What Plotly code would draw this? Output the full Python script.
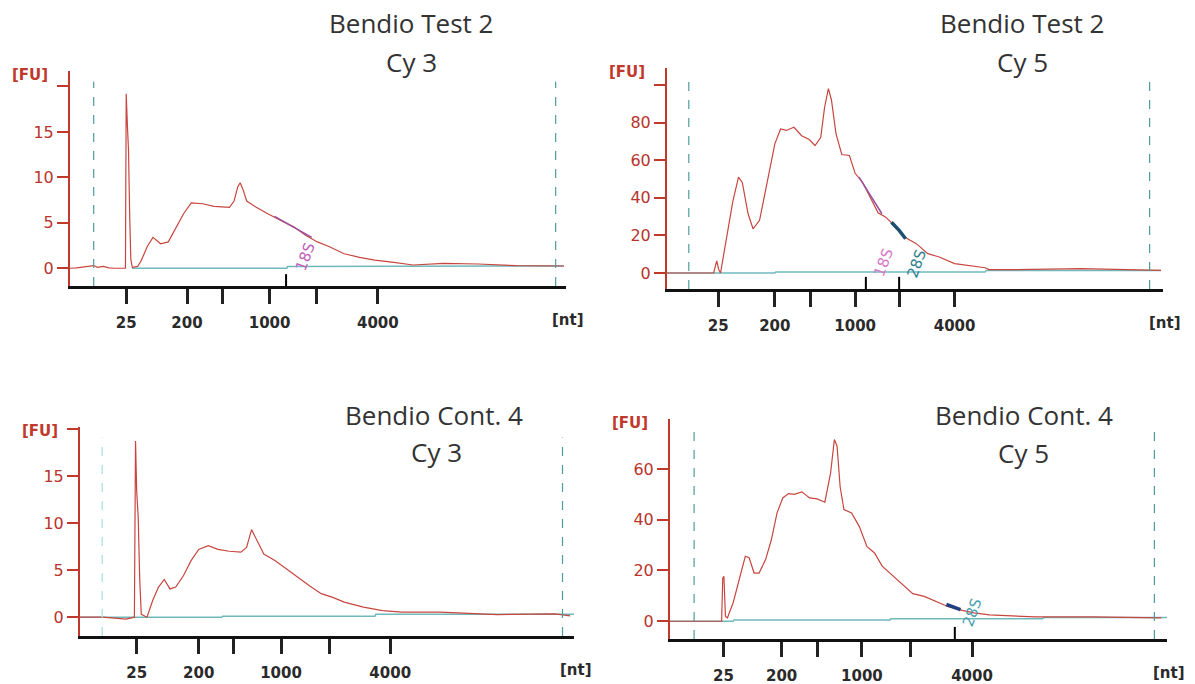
import plotly.graph_objects as go

W, H = 1195, 684

# ---------------- data (migration time in s, fluorescence in FU) ----------------
ladder_nt = ["25", "200", "", "1000", "", "4000"]

# Panel 1: Bendio Test 2, Cy 3
p1_t = [19.32, 20.0, 21.8, 22.2, 22.8, 23.4, 24.0, 25.0, 25.12, 25.16, 25.2, 25.32, 25.44, 25.56, 25.68, 25.84,
        26.4, 26.8, 27.4, 28.0, 28.4, 28.8, 29.6, 30.4, 31.2, 32.0, 33.2, 34.4, 36.0, 36.48, 36.88, 37.12, 37.4,
        37.8, 38.8, 40.0, 41.6, 42.8, 44.0, 45.2, 46.4, 48.0, 49.6, 51.2, 53.2, 55.2, 58.4, 62.0, 66.0, 71.0]
p1_v = [0, 0.05, 0.3, 0.1, 0.2, 0.05, 0, 0, 0, 10, 19.2, 15.8, 13, 6, 1, 0.1,
        0.2, 0.9, 2.4, 3.4, 3.1, 2.7, 2.9, 4.5, 6.0, 7.2, 7.1, 6.8, 6.7, 7.4, 9.0, 9.4, 8.7,
        7.4, 6.7, 6.0, 5.1, 4.5, 3.6, 2.9, 2.4, 1.6, 1.2, 0.9, 0.65, 0.36, 0.54, 0.47, 0.29, 0.25]
p1_base_t = [25.8, 42.0, 42.1, 71.0]
p1_base_v = [0, 0, 0.2, 0.25]
p1_fit_t = [40.72, 41.6, 42.8, 44.0, 44.6]
p1_fit_v = [5.7, 5.2, 4.5, 3.8, 3.4]
p1_ticks = [25.2, 31.56, 35.32, 40.2, 45.12, 51.52]
p1_marks = [41.92]
p1_gates = [21.8, 70.12]
p1_xrange = [19.32, 71.2]
p1_yrange = [-1.95, 21.7]
p1_yticks = [0, 5, 10, 15, 20]
p1_ylab = ["0", "5", "10", "15", ""]

# Panel 2: Bendio Test 2, Cy 5
p2_t = [19.52, 24.4, 24.72, 24.92, 25.12, 25.8, 26.4, 27.0, 27.4, 28.0, 28.52, 29.2, 30.0, 30.8, 31.4, 32.0,
        32.8, 33.6, 34.4, 35.0, 35.6, 36.0, 36.4, 36.72, 37.2, 37.8, 38.6, 39.2, 40.0, 40.8, 41.6, 42.4, 43.2,
        44.4, 45.6, 46.8, 48.0, 49.6, 51.2, 52.8, 53.2, 56.0, 62.8, 71.2]
p2_v = [0, 0, 6.5, 2, 0, 21, 38, 51, 48, 31.5, 23.5, 28, 49, 68.7, 76.6, 75.8,
        77.5, 73, 71, 67.8, 72, 88, 98, 92, 74, 63, 62.5, 53, 48, 40, 32, 29.7, 25.8,
        19, 15.6, 10.3, 8.5, 5, 3.7, 2.8, 1.8, 1.8, 2.3, 1.4]
p2_base_t = [19.52, 30.8, 30.9, 52.8, 52.9, 71.2]
p2_base_v = [0, 0, 0.5, 0.5, 1.4, 1.4]
p2_fit_t = [39.6, 40.8, 42.0]
p2_fit_v = [51, 41, 31.5]
p2_peak_t = [43.0, 43.8, 44.48]
p2_peak_v = [27, 22.7, 18.2]
p2_ticks = [24.88, 30.8, 34.52, 39.2, 43.8, 49.6]
p2_marks = [40.32, 43.8]
p2_gates = [21.8, 70.0]
p2_xrange = [19.52, 71.4]
p2_yrange = [-8.5, 109]
p2_yticks = [0, 20, 40, 60, 80, 100]
p2_ylab = ["0", "20", "40", "60", "80", ""]

# Panel 3: Bendio Cont. 4, Cy 3
p3_t = [20.4, 22.72, 24.0, 25.2, 26.08, 26.2, 26.32, 26.48, 26.64, 26.8, 27.4, 28.0, 28.6, 29.2, 29.8, 30.4,
        31.2, 32.0, 32.8, 33.8, 34.8, 36.0, 37.2, 37.8, 38.32, 38.8, 39.6, 40.8, 42.0, 43.2, 44.4, 45.6, 46.8,
        48.0, 50.0, 52.0, 54.0, 58.0, 64.0, 70.0, 71.6]
p3_v = [0, 0, -0.1, -0.2, 0, 18.7, 13.4, 10.6, 4, 0.3, 0, 1.8, 3.2, 4.0, 3.0, 3.2,
        4.4, 6.0, 7.2, 7.6, 7.2, 7.0, 6.9, 7.4, 9.3, 8.3, 6.7, 6.0, 5.1, 4.2, 3.3, 2.5, 2.1,
        1.6, 1.06, 0.7, 0.53, 0.53, 0.28, 0.35, 0.14]
p3_base_t = [20.4, 35.2, 35.3, 51.2, 51.3, 72.0]
p3_base_v = [0, 0, 0.1, 0.1, 0.3, 0.3]
p3_ticks = [26.32, 32.8, 36.4, 41.4, 46.48, 52.8]
p3_gates = [22.72, 70.8]
p3_xrange = [20.4, 72.0]
p3_yrange = [-2.0, 20.2]
p3_yticks = [0, 5, 10, 15, 20]
p3_ylab = ["0", "5", "10", "15", ""]

# Panel 4: Bendio Cont. 4, Cy 5
p4_t = [19.8, 25.2, 25.32, 25.44, 25.6, 25.8, 26.4, 27.2, 27.68, 28.08, 28.6, 29.12, 29.8, 30.4, 31.0, 31.6,
        32.2, 32.8, 33.6, 34.4, 35.2, 36.0, 36.6, 37.0, 37.28, 37.6, 38.0, 38.8, 39.6, 40.4, 41.2, 42.0, 42.8,
        44.0, 45.2, 46.4, 47.6, 48.8, 50.0, 51.6, 53.2, 56.0, 58.0, 64.0, 71.2]
p4_v = [0, 0, 17, 17.7, 2, 1.3, 7.2, 19, 25.6, 25, 19, 19, 24.3, 32, 42.7, 48.6,
        50.3, 50, 51, 48.6, 48.2, 46.9, 58.4, 71.6, 69, 53, 44, 42.7, 37.4, 29.5, 26.9, 21.7, 19,
        15.1, 10.9, 9.8, 7.9, 5.9, 4.6, 3.3, 2.5, 2.2, 1.7, 1.7, 1.3]
p4_base_t = [19.8, 26.4, 26.5, 42.8, 42.9, 58.8, 58.9, 71.8]
p4_base_v = [0, 0, 0.5, 0.5, 1.0, 1.0, 1.5, 1.5]
p4_peak_t = [48.72, 49.4, 50.2]
p4_peak_v = [6.6, 5.6, 4.6]
p4_ticks = [25.4, 31.48, 35.2, 39.88, 45.0, 51.4]
p4_marks = [49.6]
p4_gates = [22.32, 70.48]
p4_xrange = [19.8, 71.8]
p4_yrange = [-7.0, 79.7]
p4_yticks = [0, 20, 40, 60]
p4_ylab = ["0", "20", "40", "60"]

titles = [("Bendio Test 2", "Cy 3"), ("Bendio Test 2", "Cy 5"),
          ("Bendio Cont. 4", "Cy 3"), ("Bendio Cont. 4", "Cy 5")]
peak_labels = [
    [("18S", 44.0, 1.3, "#c060b8")],
    [("18S", 42.2, 5.8, "#d67ac8"), ("28S", 45.6, 5.0, "#2f8090")],
    [],
    [("28S", 51.4, 3.3, "#4aa0b0")],
]

# ---------------- layout geometry (pixels) ----------------
boxes = [(70, 566, 71, 286), (667, 1163, 68, 289), (80, 574, 427, 636), (670, 1167, 419, 639)]
title_pos = [((411, 23), (411, 62)), ((1022, 23), (1022, 62)),
             ((434, 415), (436, 452)), ((1024, 415), (1024, 453))]

RED = "#c0392b"
CURVE = "#c8463f"
CYAN = "#6fb9bd"
GATE = "#4f9c9c"

fig = go.Figure()
panels = [
    dict(t=p1_t, v=p1_v, bt=p1_base_t, bv=p1_base_v, ticks=p1_ticks, marks=p1_marks, gates=p1_gates,
         xr=p1_xrange, yr=p1_yrange, yt=p1_yticks, yl=p1_ylab,
         fits=[(p1_fit_t, p1_fit_v, "#9b4fa0", 1.5)]),
    dict(t=p2_t, v=p2_v, bt=p2_base_t, bv=p2_base_v, ticks=p2_ticks, marks=p2_marks, gates=p2_gates,
         xr=p2_xrange, yr=p2_yrange, yt=p2_yticks, yl=p2_ylab,
         fits=[(p2_fit_t, p2_fit_v, "#9b4fa0", 1.5), (p2_peak_t, p2_peak_v, "#1f4f6f", 3.5)]),
    dict(t=p3_t, v=p3_v, bt=p3_base_t, bv=p3_base_v, ticks=p3_ticks, marks=[], gates=p3_gates,
         xr=p3_xrange, yr=p3_yrange, yt=p3_yticks, yl=p3_ylab, fits=[]),
    dict(t=p4_t, v=p4_v, bt=p4_base_t, bv=p4_base_v, ticks=p4_ticks, marks=p4_marks, gates=p4_gates,
         xr=p4_xrange, yr=p4_yrange, yt=p4_yticks, yl=p4_ylab,
         fits=[(p4_peak_t, p4_peak_v, "#1f3f7f", 3.5)]),
]

shapes = []
annotations = []
for i, p in enumerate(panels):
    n = i + 1
    xa = "x" if n == 1 else f"x{n}"
    ya = "y" if n == 1 else f"y{n}"
    x0, x1, y0, y1 = boxes[i]
    # baseline
    fig.add_trace(go.Scatter(x=p["bt"], y=p["bv"], mode="lines", xaxis=xa, yaxis=ya,
                             line=dict(color=CYAN, width=1.5), hoverinfo="skip", showlegend=False))
    # curve
    fig.add_trace(go.Scatter(x=p["t"], y=p["v"], mode="lines", xaxis=xa, yaxis=ya,
                             line=dict(color=CURVE, width=1.2), showlegend=False))
    for ft, fv, col, w in p["fits"]:
        fig.add_trace(go.Scatter(x=ft, y=fv, mode="lines", xaxis=xa, yaxis=ya,
                                 line=dict(color=col, width=w), showlegend=False))
    # gate dashed lines
    for g in p["gates"]:
        shapes.append(dict(type="line", xref=xa, yref=f"{ya} domain", x0=g, x1=g, y0=0, y1=0.95,
                           line=dict(color=GATE if not (n == 3 and g == p["gates"][0]) else "#a8dede",
                                     width=1.2, dash="dash")))
    # peak markers above axis
    for m in p["marks"]:
        shapes.append(dict(type="line", xref=xa, yref=f"{ya} domain", x0=m, x1=m, y0=0, y1=0.055,
                           line=dict(color="black", width=2)))
    fd = [x0 / W, x1 / W]
    yd = [1 - y1 / H, 1 - y0 / H]
    fig.layout[("xaxis" if n == 1 else f"xaxis{n}")] = dict(
        domain=fd, anchor=ya, range=p["xr"], showgrid=False, zeroline=False,
        showline=True, linecolor="#111", linewidth=3,
        tickmode="array", tickvals=p["ticks"], ticktext=ladder_nt,
        ticks="outside", ticklen=15, tickwidth=2.5, tickcolor="#222",
        ticklabelstandoff=6,
        tickfont=dict(family="DejaVu Sans", size=15, color="#2a2a2a", weight="bold"))
    fig.layout[("yaxis" if n == 1 else f"yaxis{n}")] = dict(
        domain=yd, anchor=xa, range=p["yr"], showgrid=False, zeroline=False,
        showline=True, linecolor=RED, linewidth=2,
        tickmode="array", tickvals=p["yt"], ticktext=p["yl"],
        ticks="outside", ticklen=11, tickwidth=2, tickcolor=RED,
        tickfont=dict(family="DejaVu Sans", size=16, color="#b8342c"))
    # axis unit labels
    annotations.append(dict(text="[FU]", xref="paper", yref="paper", x=(x0 - 20) / W, y=1 - (y0 + 4) / H,
                            xanchor="right", yanchor="middle", showarrow=False,
                            font=dict(family="DejaVu Sans", size=15, color=RED, weight="bold")))
    annotations.append(dict(text="[nt]", xref="paper", yref="paper", x=(x1 + 2) / W, y=1 - (y1 + 34) / H,
                            xanchor="center", yanchor="middle", showarrow=False,
                            font=dict(family="DejaVu Sans", size=15, color="#2a2a2a", weight="bold")))
    # titles
    for txt, (tx, ty) in zip(titles[i], title_pos[i]):
        annotations.append(dict(text=txt, xref="paper", yref="paper", x=tx / W, y=1 - ty / H,
                                xanchor="center", yanchor="middle", showarrow=False,
                                font=dict(family="Open Sans", size=26, color="#333333")))
    for lab, lt, lv, col in peak_labels[i]:
        annotations.append(dict(text=lab, xref=xa, yref=ya, x=lt, y=lv, showarrow=False,
                                textangle=-70, font=dict(family="DejaVu Sans", size=15, color=col)))

fig.update_layout(width=W, height=H, margin=dict(l=0, r=0, t=0, b=0),
                  paper_bgcolor="white", plot_bgcolor="white",
                  shapes=shapes, annotations=annotations, showlegend=False)
fig.write_html("out.html")
